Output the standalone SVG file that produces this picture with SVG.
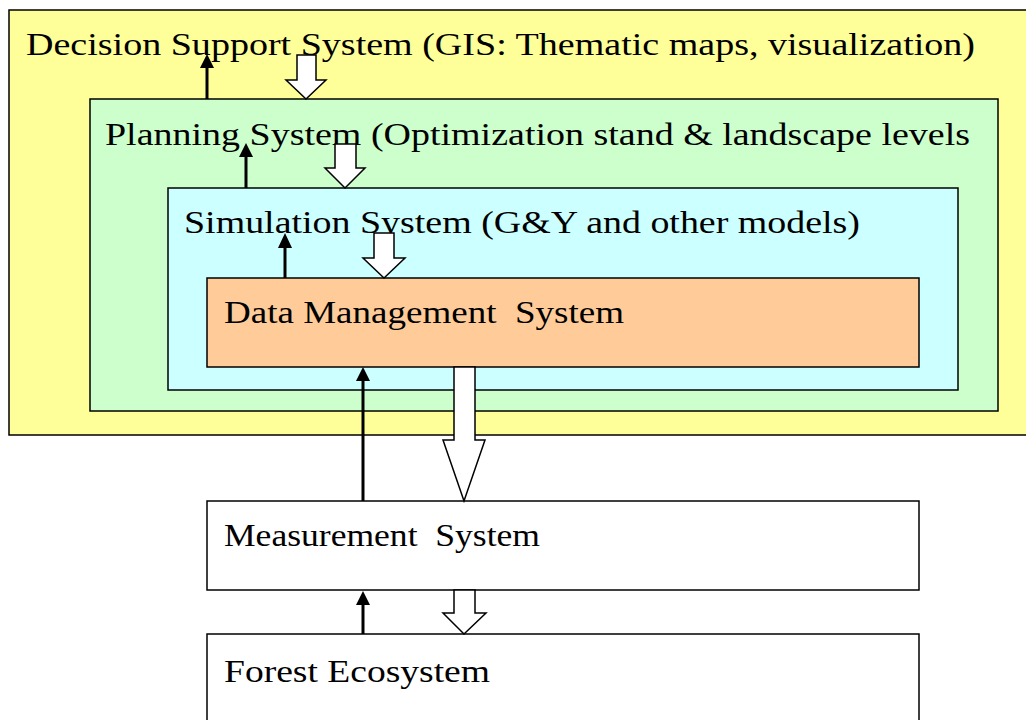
<svg xmlns="http://www.w3.org/2000/svg" width="1026" height="720" viewBox="0 0 1026 720">
<style>
.box{stroke:#000;stroke-width:1.5}
.t{font-family:'Liberation Serif',Tinos,'Times New Roman',Times,serif;font-size:32px;fill:#000}
.up{stroke:#000;stroke-width:3;fill:none}
.hd{fill:#000;stroke:none}
.wa{fill:#fff;stroke:#000;stroke-width:1.5;stroke-linejoin:miter}
</style>
<rect width="1026" height="720" fill="#fff"/>
<g id="dss">
<rect class="box" x="9" y="10" width="1030" height="425" fill="#FFFF99"/>
<text class="t" x="26" y="55" textLength="949" lengthAdjust="spacingAndGlyphs">Decision Support System (GIS: Thematic maps, visualization)</text>
</g>
<g id="planning">
<rect class="box" x="90" y="99" width="908" height="312" fill="#CCFFCC"/>
<text class="t" x="105" y="145" textLength="865" lengthAdjust="spacingAndGlyphs">Planning System (Optimization stand &amp; landscape levels</text>
</g>
<g id="simulation">
<rect class="box" x="168" y="188" width="790" height="202" fill="#CCFFFF"/>
<text class="t" x="184" y="233" textLength="676" lengthAdjust="spacingAndGlyphs">Simulation System (G&amp;Y and other models)</text>
</g>
<g id="data">
<rect class="box" x="207" y="278" width="712" height="89" fill="#FFCC99"/>
<text class="t" x="224" y="323" textLength="400" lengthAdjust="spacingAndGlyphs" xml:space="preserve">Data Management  System</text>
</g>
<g id="measurement">
<rect class="box" x="207" y="501" width="712" height="89" fill="#fff"/>
<text class="t" x="224" y="546" textLength="316" lengthAdjust="spacingAndGlyphs" xml:space="preserve">Measurement  System</text>
</g>
<g id="forest">
<rect class="box" x="207" y="634" width="712" height="100" fill="#fff"/>
<text class="t" x="224" y="682" textLength="266" lengthAdjust="spacingAndGlyphs">Forest Ecosystem</text>
</g>
<g id="connectors">
<line class="up" x1="207" y1="99" x2="207" y2="64"/>
<polygon class="hd" points="207,54 200,68 214,68"/>
<line class="up" x1="246" y1="188" x2="246" y2="153"/>
<polygon class="hd" points="246,143 239,157 253,157"/>
<line class="up" x1="285" y1="278" x2="285" y2="243"/>
<polygon class="hd" points="285,233 278,248 292,248"/>
<line class="up" x1="363" y1="501" x2="363" y2="377"/>
<polygon class="hd" points="363,367 356,381 370,381"/>
<line class="up" x1="363" y1="634" x2="363" y2="601"/>
<polygon class="hd" points="363,591 356,605 370,605"/>
<polygon class="wa" points="297,55 316,55 316,80 326,80 306,99 286,80 297,80"/>
<polygon class="wa" points="335,144 356,144 356,168 365,168 345,188 325,168 335,168"/>
<polygon class="wa" points="374,233 394,233 394,258 405,258 384,278 363,258 374,258"/>
<polygon class="wa" points="454,367 475,367 475,440 485,440 464,501 443,440 454,440"/>
<polygon class="wa" points="454,590 475,590 475,613 486,613 464,634 443,613 454,613"/>
</g>
</svg>
